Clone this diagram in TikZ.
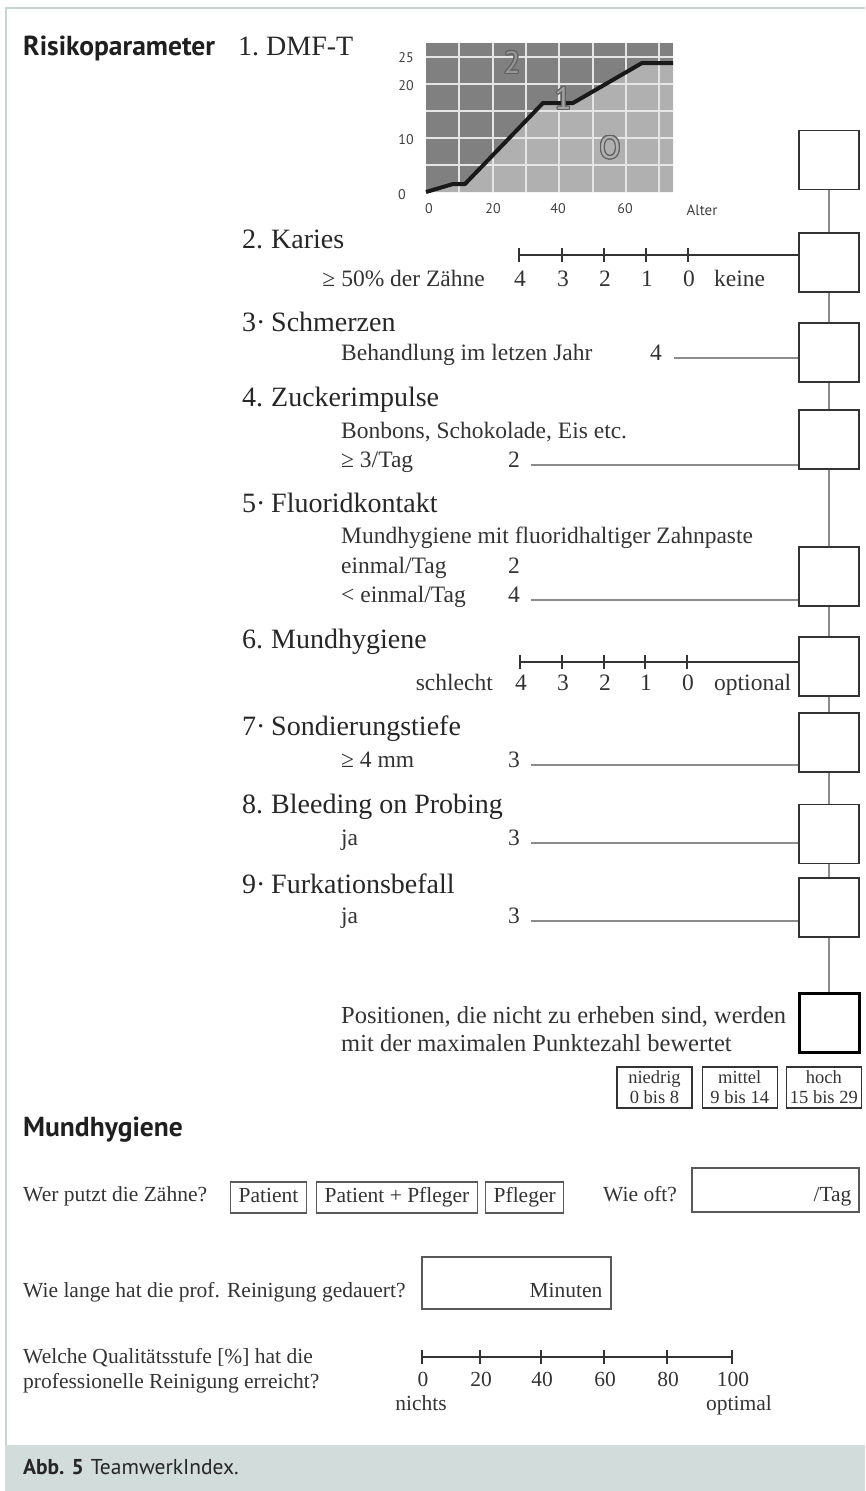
\documentclass[tikz,border=0pt]{standalone}
\usepackage{fontspec}
\setmainfont{Liberation Serif}
\newfontfamily\sansfam{PT Sans}
\usepackage{tikz}
\usepackage{contour}
\usetikzlibrary{positioning,calc}
\definecolor{framegreen}{HTML}{C8D6D2}
\definecolor{captionbg}{HTML}{D2DCDB}
\definecolor{chartdark}{HTML}{808080}
\definecolor{chartlight}{HTML}{B0B0B0}
\definecolor{ink}{HTML}{333333}
\definecolor{wire}{HTML}{8C8C8C}
\contourlength{1.1pt}

\tikzset{
  txt/.style={inner sep=0pt,text=ink,font=\fontsize{23.5}{28}\selectfont},
  qtxt/.style={inner sep=0pt,text=ink,font=\fontsize{21.5}{25}\selectfont},
  head/.style={inner sep=0pt,text=black!85,font=\fontsize{28}{32}\selectfont},
  sanshead/.style={inner sep=0pt,text=black!88,font=\sansfam\bfseries\fontsize{27.5}{32}\selectfont},
  chartlbl/.style={inner sep=0pt,text=black!75,font=\sansfam\fontsize{14}{16}\selectfont},
  chartdigit/.style={inner sep=0pt,font=\sansfam\fontsize{31}{31}\selectfont},
  scorebox/.style={draw=ink,line width=1.6pt,fill=white,minimum width=60pt,minimum height=59pt,inner sep=0pt},
  catbox/.style={draw=ink,line width=1.2pt,align=center,minimum width=75pt,minimum height=41pt,inner sep=0pt,
    text=ink,font=\fontsize{18.5}{20}\selectfont},
  optbox/.style={draw=black!65,line width=1.3pt,minimum height=31pt,inner xsep=8pt,inner ysep=0pt,
    text height=15pt,text depth=5pt,text=ink,font=\fontsize{21.5}{25}\selectfont},
  answerbox/.style={draw=black!65,line width=1.3pt,inner sep=0pt},
  wire/.style={draw=wire,line width=1.2pt},
  scaleline/.style={draw=ink,line width=1.6pt}
}

\begin{document}
\begin{tikzpicture}[x=1pt,y=-1pt]
\useasboundingbox (0,0) rectangle (865,1491);

% frame and caption
\fill[captionbg] (5,1445) rectangle (865,1491);
\draw[framegreen,line width=2pt] (6,1445) -- (6,8) -- (865,8);
\node[inner sep=0pt,anchor=mid west,text=black!85,font=\sansfam\fontsize{21.5}{24}\selectfont] (cap) at (23,1472)
  {\textbf{Abb. 5}\hspace{7pt}TeamwerkIndex.};

\node[sanshead,anchor=mid west] (risk) at (23,53) {Risikoparameter};
\node[head,anchor=mid west] (n1) at (238,53) {1.};
\node[head,anchor=mid west] (h1) at (266,53) {DMF-T};

% DMF-T chart
\fill[chartdark] (426,43) rectangle (673,192);
\fill[chartlight] (426,192) -- (453,184) -- (465,184) -- (543,103) -- (573,103) -- (642,63) -- (673,63) -- (673,192) -- cycle;
\foreach \x in {459,493,526,559,593,626,659}
  \draw[white!80!gray,line width=1.6pt] (\x,43) -- (\x,192);
\foreach \y in {57,84,111,138,165}
  \draw[white!80!gray,line width=1.6pt] (426,\y) -- (673,\y);
\draw[black!90,line width=4pt,line join=round] (426,192) -- (453,184) -- (465,184) -- (543,103) -- (573,103) -- (642,63) -- (673,63);
\node[chartdigit] (z2) at (512,63) {\contour{black!62}{\textcolor{black!42}{2}}};
\node[chartdigit] (z1) at (563,99) {\contour{black!62}{\textcolor{black!36}{1}}};
\node[chartdigit] (z0) at (610,148) {\contour{black!62}{\textcolor{black!31}{O}}};
\foreach \v/\y in {25/58,20/86,10/140}
  \node[chartlbl] (ya\v) at (406,\y) {\v};
\node[chartlbl] (ya0) at (402,195) {0};
\foreach \v/\x in {0/429,20/493,40/558,60/625}
  \node[chartlbl] (xa\v) at (\x,209) {\v};
\node[chartlbl,font=\sansfam\fontsize{15}{16}\selectfont] (alter) at (702,210) {Alter};

% score boxes on the right
\foreach \i/\y in {1/160,2/262.5,3/352.5,4/439.5,5/576.5,6/666.5,7/742.5,8/834,9/907.5}
  \node[scorebox] (b\i) at (829,\y) {};
\node[scorebox,draw=black,line width=3pt] (bsum) at (829,1022.5) {};
\foreach \a/\b in {1/2,2/3,3/4,4/5,5/6,6/7,7/8,8/9}
  \draw[wire] (b\a.south) -- (b\b.north);
\draw[wire] (b9.south) -- (bsum.north);

% parameter headings
\foreach \k/\n/\t/\y in {2/2./Karies/246,3/3·/Schmerzen/329,4/4./Zuckerimpulse/404,5/5·/Fluoridkontakt/510,
    6/6./Mundhygiene/646,7/7·/Sondierungstiefe/733,8/8./Bleeding on Probing/811,9/9·/Furkationsbefall/891} {
  \node[head,anchor=mid west] (n\k) at (242,\y) {\n};
  \node[head,anchor=mid west] (h\k) at (271,\y) {\t};
}

% 2. Karies
\coordinate (kar) at (519,255);
\draw[scaleline] (kar) -- (kar -| b2.west);
\foreach \v/\x in {4/519,3/562,2/604,1/646,0/688} {
  \draw[scaleline] (\x,248) -- (\x,262);
  \node[txt,anchor=mid] (kl\v) at (\x+1,284) {\v};
}
\node[txt,anchor=mid east] (kar-txt) at (485,284) {≥ 50\% der Zähne};
\node[txt,anchor=mid west] (keine) at (714,284) {keine};

% 3. Schmerzen
\node[txt,anchor=mid west] (s3) at (341,358) {Behandlung im letzen Jahr};
\node[txt,anchor=mid west] (v3) at (650,358) {4};
\draw[wire] ([xshift=12pt]v3.mid east) -- (v3.mid east -| b3.west);

% 4. Zuckerimpulse
\node[txt,anchor=mid west] (s4a) at (341,436) {Bonbons, Schokolade, Eis etc.};
\node[txt,anchor=mid west] (s4b) at (341,465) {≥ 3/Tag};
\node[txt,anchor=mid west] (v4) at (508,465) {2};
\draw[wire] ([xshift=11pt]v4.mid east) -- (v4.mid east -| b4.west);

% 5. Fluoridkontakt
\node[txt,anchor=mid west] (s5a) at (341,541) {Mundhygiene mit fluoridhaltiger Zahnpaste};
\node[txt,anchor=mid west] (s5b) at (341,571) {einmal/Tag};
\node[txt,anchor=mid west] (v5b) at (508,571) {2};
\node[txt,anchor=mid west] (s5c) at (341,600) {< einmal/Tag};
\node[txt,anchor=mid west] (v5) at (508,600) {4};
\draw[wire] ([xshift=11pt]v5.mid east) -- (v5.mid east -| b5.west);

% 6. Mundhygiene
\coordinate (mh) at (520,662);
\draw[scaleline] (mh) -- (mh -| b6.west);
\foreach \v/\x in {4/520,3/562,2/604,1/645,0/687} {
  \draw[scaleline] (\x,655) -- (\x,669);
  \node[txt,anchor=mid] (ml\v) at (\x+1,688) {\v};
}
\node[txt,anchor=mid east] (schlecht) at (493,688) {schlecht};
\node[txt,anchor=mid west] (optional) at (714,688) {optional};

% 7.-9.
\node[txt,anchor=mid west] (s7) at (341,765) {≥ 4 mm};
\node[txt,anchor=mid west] (v7) at (508,765) {3};
\draw[wire] ([xshift=11pt]v7.mid east) -- (v7.mid east -| b7.west);
\node[txt,anchor=mid west] (s8) at (341,843) {ja};
\node[txt,anchor=mid west] (v8) at (508,843) {3};
\draw[wire] ([xshift=11pt]v8.mid east) -- (v8.mid east -| b8.west);
\node[txt,anchor=mid west] (s9) at (341,921) {ja};
\node[txt,anchor=mid west] (v9) at (508,921) {3};
\draw[wire] ([xshift=11pt]v9.mid east) -- (v9.mid east -| b9.west);

\node[txt,anchor=west,align=left,font=\fontsize{24.5}{28}\selectfont] (hint) at (341,1029)
  {Positionen, die nicht zu erheben sind, werden\\mit der maximalen Punktezahl bewertet};

% risk categories
\node[catbox] (cat1) at (654.5,1087.5) {niedrig\\0 bis 8};
\node[catbox,right=9pt of cat1] (cat2) {mittel\\9 bis 14};
\node[catbox,right=8pt of cat2] (cat3) {hoch\\15 bis 29};

% Mundhygiene block
\node[sanshead,anchor=mid west] (mhyg) at (23,1134) {Mundhygiene};
\node[qtxt,anchor=mid west] (wer) at (23,1199) {Wer putzt die Zähne?};
\node[optbox,anchor=west] (o1) at (230,1197.5) {Patient};
\node[optbox,right=9pt of o1] (o2) {Patient + Pfleger};
\node[optbox,right=7pt of o2] (o3) {Pfleger};
\node[qtxt,anchor=mid west] (oft) at (603,1199) {Wie oft?};
\node[answerbox,minimum width=167pt,minimum height=44pt] (tag) at (775.5,1190) {};
\node[qtxt,anchor=mid east] (tagtxt) at ($(tag.east)+(-8,9)$) {/Tag};

\node[qtxt,anchor=mid west] (lange) at (23,1295) {Wie lange hat die prof. Reinigung gedauert?};
\node[answerbox,minimum width=189pt,minimum height=52pt] (min) at (516.5,1283) {};
\node[qtxt,anchor=mid east] (mintxt) at ($(min.east)+(-9,12)$) {Minuten};

\node[qtxt,anchor=west,align=left] (quali) at (23,1371)
  {Welche Qualitätsstufe [\%] hat die\\professionelle Reinigung erreicht?};
\coordinate (q0) at (422,1357);
\coordinate (q100) at (732,1357);
\draw[scaleline] (q0) -- (q100);
\foreach \v/\x in {0/422,20/480,40/541,60/604,80/667,100/732} {
  \draw[scaleline] (\x,1350) -- (\x,1364);
  \node[qtxt,anchor=mid] (ql\v) at (\x+1,1384) {\v};
}
\node[qtxt,anchor=mid] (nichts) at (421,1408) {nichts};
\node[qtxt,anchor=mid] (optimal) at (739,1408) {optimal};
\end{tikzpicture}
\end{document}
